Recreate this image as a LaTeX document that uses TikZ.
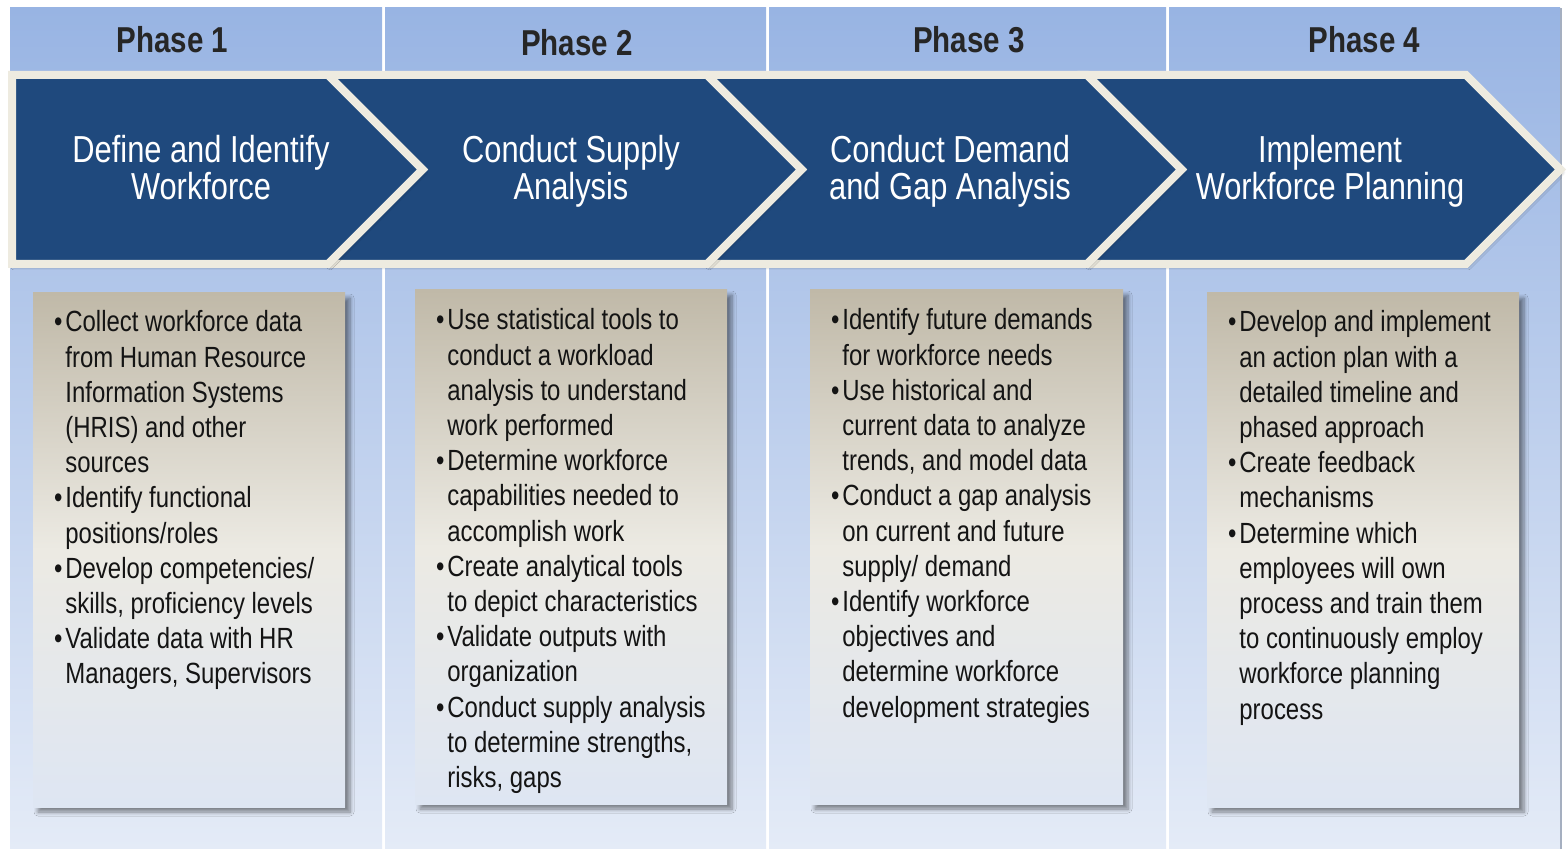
\documentclass[tikz,border=0pt]{standalone}
\usepackage{fontspec}
\setmainfont{Liberation Sans}[FakeStretch=0.82]
\usetikzlibrary{shadows,shadows.blur}
\definecolor{colTop}{RGB}{152,180,227}
\definecolor{colBot}{RGB}{228,235,247}
\definecolor{chevBlue}{RGB}{31,73,125}
\definecolor{cream}{RGB}{238,235,224}
\definecolor{boxTop}{RGB}{192,185,168}
\definecolor{boxMid}{RGB}{236,234,227}
\definecolor{boxBot}{RGB}{222,230,243}
\definecolor{phaseText}{RGB}{38,38,38}
\definecolor{bodyText}{RGB}{20,20,20}
\definecolor{edgeShade}{RGB}{165,175,192}
\newcommand{\bl}{\leavevmode\llap{•\hspace{1.5pt}}}
\begin{document}
\begin{tikzpicture}[x=0.5pt,y=-0.5pt,
  colbg/.style={top color=colTop, bottom color=colBot, draw=none},
  chev/.style={fill=chevBlue, draw=cream, line width=4pt, line join=miter, miter limit=10,
    blur shadow={shadow xshift=1pt, shadow yshift=-1.5pt, shadow blur steps=4, shadow blur radius=1.5pt, shadow opacity=35}},
  infobox/.style={top color=boxTop, bottom color=boxBot, middle color=boxMid, draw=none,
    blur shadow={shadow xshift=2.5pt, shadow yshift=-2.5pt, shadow blur steps=6, shadow blur radius=2pt, shadow opacity=45}},
  phaselbl/.style={font=\bfseries\fontsize{18}{20}\selectfont, text=phaseText, inner sep=0},
  chevlbl/.style={font=\fontsize{18.8}{18.5}\selectfont, text=white, align=center, inner sep=0},
  bodytxt/.style={font=\fontsize{14.6}{17.6}\selectfont, text=bodyText, inner sep=0, anchor=base west}]
\useasboundingbox (0,0) rectangle (1568,849);
% background columns
\path[colbg] (10,8) rectangle (382,849);
\path[colbg] (385,8) rectangle (766,849);
\path[colbg] (769,8) rectangle (1166,849);
\path[colbg] (1169,8) rectangle (1560,849);
\draw[edgeShade, line width=1pt] (1561,8) -- (1561,849);
% phase labels
\node[phaselbl] (p1) at (172.5,40) {Phase 1};
\node[phaselbl] (p2) at (577,43) {Phase 2};
\node[phaselbl] (p3) at (969,40) {Phase 3};
\node[phaselbl] (p4) at (1364.5,40) {Phase 4};
% chevrons (right to left so that each covers the next one's notch)
\path[chev] (1087,75) -- (1466,75) -- (1560.5,169.5) -- (1466,264) -- (1087,264) -- (1181.5,169.5) -- cycle;
\path[chev] (707,75) -- (1087,75) -- (1181.5,169.5) -- (1087,264) -- (707,264) -- (801.5,169.5) -- cycle;
\path[chev] (328,75) -- (707,75) -- (801.5,169.5) -- (707,264) -- (328,264) -- (422.5,169.5) -- cycle;
\path[chev] (12,75) -- (328,75) -- (422.5,169.5) -- (328,264) -- (12,264) -- cycle;
\node[chevlbl] (t1) at (201,168) {Define and Identify\\Workforce};
\node[chevlbl] (t2) at (571,171) {Conduct Supply\\Analysis};
\node[chevlbl] (t3) at (950,171) {Conduct Demand\\and Gap Analysis};
\node[chevlbl] (t4) at (1330,171) {Implement\\Workforce Planning};
% info boxes
\path[infobox] (33,293) rectangle (345,807);
\path[infobox] (415,290) rectangle (727,804);
\path[infobox] (810,290) rectangle (1123,804);
\path[infobox] (1207,293) rectangle (1519,807);
\node[bodytxt] (b1) at (65,332) {\parbox[t]{200pt}{%
\bl Collect workforce data\\
from Human Resource\\
Information Systems\\
(HRIS) and other\\
sources\\
\bl Identify functional\\
positions/roles\\
\bl Develop competencies/\\
skills, proficiency levels\\
\bl Validate data with HR\\
Managers, Supervisors}};
\node[bodytxt] (b2) at (447,330) {\parbox[t]{200pt}{%
\bl Use statistical tools to\\
conduct a workload\\
analysis to understand\\
work performed\\
\bl Determine workforce\\
capabilities needed to\\
accomplish work\\
\bl Create analytical tools\\
to depict characteristics\\
\bl Validate outputs with\\
organization\\
\bl Conduct supply analysis\\
to determine strengths,\\
risks, gaps}};
\node[bodytxt] (b3) at (842,330) {\parbox[t]{200pt}{%
\bl Identify future demands\\
for workforce needs\\
\bl Use historical and\\
current data to analyze\\
trends, and model data\\
\bl Conduct a gap analysis\\
on current and future\\
supply/ demand\\
\bl Identify workforce\\
objectives and\\
determine workforce\\
development strategies}};
\node[bodytxt] (b4) at (1239,332) {\parbox[t]{200pt}{%
\bl Develop and implement\\
an action plan with a\\
detailed timeline and\\
phased approach\\
\bl Create feedback\\
mechanisms\\
\bl Determine which\\
employees will own\\
process and train them\\
to continuously employ\\
workforce planning\\
process}};
\end{tikzpicture}
\end{document}
